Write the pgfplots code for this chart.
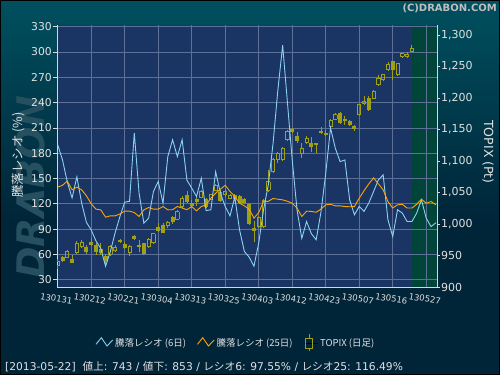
\documentclass[border=0pt]{standalone}
\usepackage{pgfplots}
\pgfplotsset{compat=1.18}
\usepackage{pgfplotstable}
\usepackage{fontspec}
\setmainfont{DejaVu Sans}
\newfontfamily\jp{Noto Sans CJK JP}
\definecolor{outerbg}{RGB}{0,36,56}
\definecolor{outertop}{RGB}{0,80,95}
\definecolor{plotbg}{RGB}{26,52,100}
\definecolor{futurebg}{RGB}{0,68,58}
\definecolor{gridcol}{RGB}{92,112,152}
\definecolor{axiscol}{RGB}{215,215,215}
\definecolor{txtcol}{RGB}{225,225,225}
\definecolor{ratio6}{RGB}{140,210,240}
\definecolor{ratio25}{RGB}{255,165,0}
\definecolor{candle}{RGB}{160,160,20}
\definecolor{wmark}{RGB}{38,80,96}

\pgfplotsset{
  zigzag legend/.style={legend image code/.code={\draw[##1] (0pt,-1.3pt) -- (5.3pt,5.3pt) -- (11pt,-3pt) -- (16.7pt,3pt);}},
  candle legend/.style={legend image code/.code={
    \path (0pt,0pt) -- (14pt,0pt);
    \draw[candle, line width=0.8pt] (5pt,-8.5pt) -- (5pt,-5pt) (5pt,5pt) -- (5pt,8.5pt);
    \draw[candle, line width=0.8pt] (1.5pt,-5pt) rectangle (8.5pt,5pt);}},
  vbar/.style={draw=none, mark=none, forget plot, error bars/.cd, y dir=plus, y explicit, error mark=none,
    error bar style={draw=candle, line width=#1}},
  hbar/.style={draw=none, mark=none, forget plot, error bars/.cd, x dir=both, x fixed=0.418, error mark=none,
    error bar style={draw=candle, line width=0.8pt}},
}

\pgfplotstableread{
i O H L C
0 934 944.5 929 940
2 947 958 945.6 956
4 954.5 973 953.5 969.4
5 965 974.7 962.5 970.4
11 952 966.7 949.3 964
12 958 966.7 956 963
15 954.5 966.2 949.8 964
19 964 977 963 976
20 970.5 986.5 969.5 984.3
23 997 1005 993.8 1003.3
25 1007.6 1022.4 1006.3 1019.7
26 1027.7 1044.7 1026.6 1041
30 1042.6 1054 1041 1051.5
32 1039.4 1048 1038 1046.3
33 1054 1063.8 1051.6 1060.6
35 1046.3 1055 1043.6 1051.5
36 1041 1047 1040 1044.7
42 996 1013 993 1011
43 996 1040 995 1038
44 1054 1085 1051.5 1067.4
45 1083.3 1105 1081 1101.9
46 1102 1115 1097 1112.5
47 1102 1123 1100 1120.5
48 1134 1149 1132 1147
51 1112.5 1128 1104.7 1120.5
52 1130 1139 1127 1136.4
57 1154.8 1166 1153 1164.4
58 1166.6 1176 1165 1173.4
63 1173.3 1190 1172 1189.2
64 1190.9 1203.6 1189 1194.5
66 1200 1213 1198 1210.5
67 1221 1237 1220 1231.8
68 1229 1238 1228 1237
69 1245 1257.5 1244 1253
71 1237 1256 1235 1254.2
72 1266 1272 1264 1270.4
73 1266 1273 1264 1270
74 1274 1284.7 1273 1279
}\upcandles

\pgfplotstableread{
i O H L C
1 947 949 940 942
3 944.5 951 937.6 938.6
6 963 966.7 952.7 956
7 972 978.4 965.2 966.7
8 966.7 969.4 950.9 956
9 960 969.4 950.9 954.5
10 949 952.7 933 942
13 974.7 976.8 969.4 971
14 968 972 960 962.5
16 980.5 982.2 974.7 976.3
17 966.8 975 955 964.1
18 969.5 970.5 951 952.5
21 995 1001 988 989.5
22 998.6 1001 985 986.3
24 1010.8 1013 1000 1003.3
27 1046.3 1051.6 1034 1035.7
28 1033 1038 1024.7 1029
29 1039.4 1044.7 1028.8 1035.7
31 1039.4 1041 1025 1027.7
34 1051.5 1054 1035.5 1037.2
37 1046.3 1048 1037 1039.4
38 1044.7 1046 1033 1034
39 1039.4 1041 1032 1034
40 1031.5 1033 999 1000.2
41 993 1005 971 989.5
49 1150.7 1153 1144 1145.3
50 1139 1146.7 1128 1132
53 1128.4 1137.5 1115 1122
54 1128 1129 1113.5 1126
55 1146.9 1153.9 1143.2 1144.4
56 1144.4 1149.6 1140 1141.6
59 1176 1177 1158 1160
60 1166.6 1171.8 1157.5 1162.8
61 1162.8 1165 1155 1157.5
62 1154.8 1157.5 1148 1150.7
65 1200 1203 1180 1181.4
70 1258.4 1259.5 1229 1244
}\downcandles

\pgfplotstableread{
i v
0 190
1 172
2 146
3 127
4 152
5 121
6 98
7 89
8 76
9 67
10 46
11 63.5
12 85.7
13 105
14 122
15 123
16 204
17 132.6
18 97
19 103
20 134.6
21 146.5
22 120.8
23 176
24 196
25 176
26 196
27 148
28 138.6
29 128.7
30 150.4
31 112
32 113
33 158
34 132.6
35 116.8
36 105.8
37 128
38 89
39 63.5
40 56.8
41 46
42 73.5
43 113
44 142.5
45 192
46 255
47 308
48 240
49 172
50 113
51 79
52 99
53 84.5
54 77.4
55 110
56 156
57 210
58 186
59 170
60 172
61 124.7
62 107
63 117
64 111
65 121
66 134.6
67 148.4
68 154.3
69 101
70 81.3
71 113
72 109
73 99
74 99
75 109
76 124.7
77 103
78 93
79 97.5
}\ratiosix

\pgfplotstableread{
i v
0 139.8
1 142
2 147
3 136.6
4 139.8
5 136.6
6 129.5
7 120
8 113.7
9 112.9
10 104.2
11 105.8
12 105.8
13 108
14 111.3
15 111.3
16 109.7
17 105
18 112.9
19 115.6
20 113.7
21 113.7
22 116.8
23 112.9
24 113
25 116.8
26 115
27 113
28 116.8
29 111.7
30 116.8
31 118.8
32 126.7
33 132.6
34 137.4
35 142
36 134.6
37 128.7
38 120.8
39 117.6
40 113.7
41 103
42 109.7
43 122.7
44 123
45 126.3
46 125.5
47 124.7
48 123
49 120.8
50 115
51 105
52 111.3
53 111
54 110
55 113.7
56 118.8
57 119.5
58 117.6
59 117.6
60 116.8
61 116.5
62 116.8
63 126.7
64 135.5
65 143.7
66 150.8
67 143.7
68 136.6
69 122.7
70 115
71 118.8
72 119.5
73 115
74 115
75 119.5
76 125.5
77 120.8
78 122.7
79 119
}\ratiotwentyfive

\begin{document}
\begin{tikzpicture}
\useasboundingbox (0,0) rectangle (500pt,375pt);
\fill[outerbg] (0,0) rectangle (500pt,375pt);
\shade[top color=outertop, bottom color=outerbg] (0,150pt) rectangle (500pt,375pt);
\node[rotate=90, font=\fontsize{38}{40}\selectfont\bfseries\itshape, text=wmark, inner sep=0] at (31pt,188pt) {DRABON};

% base axis: background, future zone, grid, left scale
\begin{axis}[
  at={(57pt,88pt)}, anchor=south west,
  scale only axis, width=380pt, height=262pt,
  xmin=-0.15, xmax=79.25, ymin=21.4, ymax=332,
  axis on top,
  axis background/.style={fill=plotbg},
  axis x line*=bottom, axis y line*=left,
  axis line style={draw=axiscol, line width=0.8pt},
  xtick={0,7,...,77},
  xticklabels={130131,130212,130221,130304,130313,130325,130403,130412,130423,130507,130516,130527},
  ytick={30,60,...,330},
  grid=major, grid style={draw=gridcol, line width=0.8pt},
  tick align=outside, major tick length=4pt,
  xtick style={draw=none},
  ytick style={draw=axiscol, line width=0.8pt},
  /pgf/number format/assume math mode=true,
  yticklabel style={font=\fontsize{10.8}{12}\selectfont, text=txtcol, inner sep=1pt},
  xticklabel style={font=\fontsize{8.5}{10}\selectfont, text=txtcol, rotate=-10, anchor=center, yshift=-8pt},
  ylabel={\jp 騰落レシオ (\%)},
  every axis y label/.style={at={(axis description cs:-0.1026,0.504)}, anchor=center, rotate=90, font=\fontsize{12.5}{14}\selectfont, text=txtcol},
]
\addplot[fill=futurebg, draw=none] coordinates {(74,21.4) (79.25,21.4) (79.25,332) (74,332)} -- cycle;
\end{axis}

% TOPIX candles on the right scale
\begin{axis}[
  at={(57pt,88pt)}, anchor=south west,
  scale only axis, width=380pt, height=262pt,
  xmin=-0.15, xmax=79.25, ymin=900, ymax=1315.9,
  axis x line=none, axis y line*=right,
  axis line style={draw=axiscol, line width=0.8pt},
  ytick={900,950,...,1300},
  tick align=outside, major tick length=3pt,
  ytick style={draw=axiscol, line width=0.8pt},
  /pgf/number format/assume math mode=true,
  /pgf/number format/1000 sep={,},
  scaled y ticks=false,
  yticklabel style={font=\fontsize{11}{12}\selectfont, text=txtcol, inner sep=1pt},
  ylabel={TOPIX (Pt)},
  every axis y label/.style={at={(axis description cs:1.134,0.515)}, anchor=center, rotate=-90, font=\fontsize{12.5}{14}\selectfont, text=txtcol},
]
% wicks
\addplot[vbar=0.8pt] table[x=i, y=L, y error expr={\thisrow{O}-\thisrow{L}}] \upcandles;
\addplot[vbar=0.8pt] table[x=i, y=C, y error expr={\thisrow{H}-\thisrow{C}}] \upcandles;
\addplot[vbar=0.8pt] table[x=i, y=L, y error expr={\thisrow{H}-\thisrow{L}}] \downcandles;
% filled (falling) bodies
\addplot[vbar=4pt] table[x=i, y=C, y error expr={\thisrow{O}-\thisrow{C}}] \downcandles;
% hollow (rising) bodies: four edges
\addplot[vbar=0.8pt] table[x expr={\thisrow{i}-0.334}, y=O, y error expr={\thisrow{C}-\thisrow{O}}] \upcandles;
\addplot[vbar=0.8pt] table[x expr={\thisrow{i}+0.334}, y=O, y error expr={\thisrow{C}-\thisrow{O}}] \upcandles;
\addplot[hbar] table[x=i, y=O] \upcandles;
\addplot[hbar] table[x=i, y=C] \upcandles;
\end{axis}

% ratio lines and legend
\begin{axis}[
  at={(57pt,88pt)}, anchor=south west,
  scale only axis, width=380pt, height=262pt,
  xmin=-0.15, xmax=79.25, ymin=21.4, ymax=332,
  hide axis,
  legend columns=3,
  legend style={at={(axis description cs:0.471,-0.2137)}, anchor=center, draw=none, fill=none,
    text=txtcol, font=\jp\fontsize{9.5}{10}\selectfont,
    /tikz/every even column/.append style={column sep=9pt}},
]
\addplot[ratio6, line width=0.9pt, zigzag legend] table[x=i, y=v] \ratiosix;
\addlegendentry{騰落レシオ (6日)}
\addplot[ratio25, line width=0.9pt, zigzag legend] table[x=i, y=v] \ratiotwentyfive;
\addlegendentry{騰落レシオ (25日)}
\addlegendimage{candle legend}
\addlegendentry{TOPIX (日足)}
\end{axis}

\node[anchor=west, text=txtcol, font=\fontsize{10.7}{12}\selectfont, inner sep=0] at (5pt,8pt)
  {[2013-05-22]\ \ {\jp 値上}: 743 / {\jp 値下}: 853 / {\jp レシオ}6: 97.55\% / {\jp レシオ}25: 116.49\%};
\node[anchor=east, text={rgb,255:red,190;green,190;blue,190}, font=\fontsize{10}{12}\selectfont\bfseries, inner sep=0] at (497pt,367pt) {(C)DRABON.COM};
\draw[black, line width=1pt] (0.5pt,0.5pt) rectangle (499.5pt,374.5pt);
\end{tikzpicture}
\end{document}
